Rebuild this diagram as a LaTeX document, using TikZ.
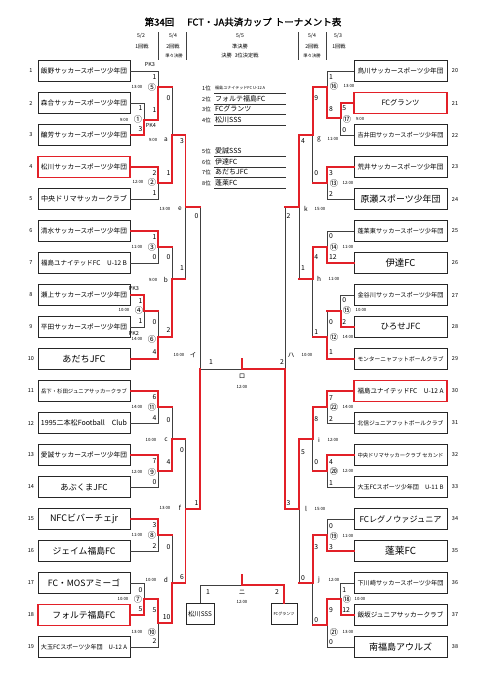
\documentclass[tikz,border=0pt]{standalone}
\usepackage{fontspec}
\usepackage{graphicx}
\setmainfont{Noto Sans CJK JP}
\newfontfamily\titlefont{Noto Sans CJK JP}[FakeBold=1.2]
\definecolor{wred}{RGB}{226,32,40}
\newcount\lc
\newcommand\lab[4]{\global\advance\lc by 1 \node[#1] (lab\the\lc) at (#2,#3) {#4};}
\newcommand\teamL[4]{\node[tbox,#1] (t#2) at (84,{71+32*(#2-1)}) {\resizebox{#3pt}{!}{#4}};
  \node[num] (n#2) at (31,{71+32*(#2-1)}) {#2};}
\newcommand\teamR[4]{\node[tbox,minimum width=93pt,#1] (t#2) at (400.5,{71+32*(#2-20)}) {\resizebox{#3pt}{!}{#4}};
  \node[num] (n#2) at (455,{71+32*(#2-20)}) {#2};}
\begin{document}
\begin{tikzpicture}[x=1pt,y=-1pt,
  tbox/.style={draw=black!85, line width=0.7pt, minimum width=92pt, minimum height=21pt, inner sep=0pt},
  redbox/.style={draw=wred, line width=1.7pt},
  lose/.style={draw=black!75, line width=0.7pt},
  win/.style={draw=wred, line width=1.7pt, line cap=rect},
  num/.style={font=\fontsize{5.5}{6}\selectfont, inner sep=0pt},
  scE/.style={font=\fontsize{6.8}{7}\selectfont, inner sep=0pt, anchor=east},
  scW/.style={font=\fontsize{6.8}{7}\selectfont, inner sep=0pt, anchor=west},
  sc/.style={font=\fontsize{6.8}{7}\selectfont, inner sep=0pt},
  pk/.style={font=\fontsize{5.5}{6}\selectfont, inner sep=0pt},
  circ/.style={font=\fontsize{8.2}{9}\selectfont, inner sep=0pt},
  tm/.style={font=\fontsize{4.3}{5}\selectfont, inner sep=0pt},
  ltr/.style={font=\fontsize{6.5}{7}\selectfont, inner sep=0pt},
  hd/.style={font=\fontsize{5.2}{6}\selectfont, inner sep=0pt},
  rk/.style={font=\fontsize{5.5}{6}\selectfont, inner sep=0pt, anchor=west},
  rkt/.style={font=\fontsize{7}{7}\selectfont, inner sep=0pt, anchor=west},
]
\fill[white] (0,0) rectangle (480,678);
\useasboundingbox (0,0) rectangle (480,678);

% title and header
\node[font=\titlefont\fontsize{9.5}{10}\selectfont, inner sep=0pt] (title) at (243,22) {第34回\hspace{13pt}FCT・JA共済カップ\hspace{3pt}トーナメント表};
\node[hd] (h1) at (141,36) {5/2};
\node[hd] (h2) at (142,47) {1回戦};
\node[hd] (h3) at (173,36) {5/4};
\node[hd] (h4) at (173,47) {2回戦};
\node[tm] (h5) at (174,56) {準々決勝};
\node[hd] (h6) at (240,36) {5/5};
\node[hd] (h7) at (240,47) {準決勝};
\node[hd] (h8) at (240,56) {決勝\hspace{3pt}3位決定戦};
\node[hd] (h9) at (312,36) {5/4};
\node[hd] (h10) at (312,47) {2回戦};
\node[tm] (h11) at (312,56) {準々決勝};
\node[hd] (h12) at (338,36) {5/3};
\node[hd] (h13) at (339,47) {1回戦};
\draw[lose] (158,32) -- (158,60);
\draw[lose] (186,32) -- (186,60);
\draw[lose] (298,32) -- (298,60);
\draw[lose] (326,32) -- (326,60);

% teams left
\teamL{}{1}{86}{飯野サッカースポーツ少年団}
\teamL{}{2}{86}{森合サッカースポーツ少年団}
\teamL{}{3}{86}{醸芳サッカースポーツ少年団}
\teamL{redbox}{4}{86}{松川サッカースポーツ少年団}
\teamL{}{5}{86}{中央ドリマサッカークラブ}
\teamL{}{6}{86}{清水サッカースポーツ少年団}
\teamL{}{7}{86}{福島ユナイテッドFC　U-12 B}
\teamL{}{8}{86}{瀬上サッカースポーツ少年団}
\teamL{}{9}{86}{平田サッカースポーツ少年団}
\teamL{}{10}{43}{あだちJFC}
\teamL{}{11}{86}{岳下・杉田ジュニアサッカークラブ}
\teamL{}{12}{86}{1995二本松Football　Club}
\teamL{}{13}{86}{愛誠サッカースポーツ少年団}
\teamL{}{14}{47}{あぶくまJFC}
\teamL{}{15}{68}{NFCビバーチェjr}
\teamL{}{16}{63}{ジェイム福島FC}
\teamL{}{17}{72}{FC・MOSアミーゴ}
\teamL{redbox}{18}{63}{フォルテ福島FC}
\teamL{}{19}{86}{大玉FCスポーツ少年団　U-12 A}

% teams right
\teamR{}{20}{86}{鳥川サッカースポーツ少年団}
\teamR{redbox}{21}{38}{FCグランツ}
\teamR{}{22}{86}{吉井田サッカースポーツ少年団}
\teamR{}{23}{86}{荒井サッカースポーツ少年団}
\teamR{}{24}{80}{原瀬スポーツ少年団}
\teamR{}{25}{86}{蓬莱東サッカースポーツ少年団}
\teamR{}{26}{30}{伊達FC}
\teamR{}{27}{86}{金谷川サッカースポーツ少年団}
\teamR{}{28}{40}{ひろせJFC}
\teamR{}{29}{86}{モンターニャフットボールクラブ}
\teamR{redbox}{30}{86}{福島ユナイテッドFC　U-12 A}
\teamR{}{31}{86}{北信ジュニアフットボールクラブ}
\teamR{}{32}{86}{中央ドリマサッカークラブ セカンド}
\teamR{}{33}{86}{大玉FCスポーツ少年団　U-11 B}
\teamR{}{34}{82}{FCレグノウァジュニア}
\teamR{}{35}{31}{蓬莱FC}
\teamR{}{36}{86}{下川崎サッカースポーツ少年団}
\teamR{}{37}{86}{飯坂ジュニアサッカークラブ}
\teamR{}{38}{63}{南福島アウルズ}

% match points
\coordinate (m1) at (144,120);
\coordinate (m5) at (158,87);
\coordinate (m2) at (158,183);
\coordinate (ma) at (172,135);
\coordinate (m3) at (158,247);
\coordinate (m4) at (144,311);
\coordinate (m6) at (158,337);
\coordinate (mb) at (172,279);
\coordinate (me) at (185.5,207);
\coordinate (m11) at (158,407);
\coordinate (m9) at (158,471);
\coordinate (mc) at (172,439);
\coordinate (m8) at (158,535);
\coordinate (m7) at (144,599);
\coordinate (m10) at (158,623);
\coordinate (md) at (172,583);
\coordinate (mf) at (185.5,509);
\coordinate (mI) at (200,369);
\coordinate (mRo) at (242,369);
\coordinate (mHa) at (285,369);
\coordinate (m17) at (340.7,118);
\coordinate (m16) at (327.3,87);
\coordinate (m13) at (327.3,183);
\coordinate (mg) at (312.7,135);
\coordinate (m14) at (327.3,247);
\coordinate (m15) at (340.7,311);
\coordinate (m12) at (327.3,337);
\coordinate (mh) at (312.7,279);
\coordinate (mk) at (299.3,207);
\coordinate (m22) at (327.3,407);
\coordinate (m20) at (327.3,471);
\coordinate (mi) at (312.7,439);
\coordinate (m19) at (327.3,535);
\coordinate (m18) at (340.7,599);
\coordinate (m21) at (327.3,625);
\coordinate (mj) at (312.7,583);
\coordinate (ml) at (299.3,509);

% black base
\foreach \a/\b in {t1/m5,t2/m1,t3/m1,t4/m2,t5/m2,t6/m3,t7/m3,t8/m4,t9/m4,t10/m6,t11/m11,t12/m11,t13/m9,t14/m9,t15/m8,t16/m8,t17/m7,t18/m7,t19/m10}
  \draw[lose] (\a.east) -| (\b);
\foreach \a/\b in {t20/m16,t21/m17,t22/m17,t23/m13,t24/m13,t25/m14,t26/m14,t27/m15,t28/m15,t29/m12,t30/m22,t31/m22,t32/m20,t33/m20,t34/m19,t35/m19,t36/m18,t37/m18,t38/m21}
  \draw[lose] (\a.west) -| (\b);
\foreach \a/\b in {m1/m5,m5/ma,m2/ma,m3/mb,m4/m6,m6/mb,ma/me,mb/me,m11/mc,m9/mc,m8/md,m7/m10,m10/md,mc/mf,md/mf,me/mI,mf/mI,m17/m16,m16/mg,m13/mg,m14/mh,m15/m12,m12/mh,mg/mk,mh/mk,m22/mi,m20/mi,m19/mj,m18/m21,m21/mj,mi/ml,mj/ml,mk/mHa,ml/mHa}
  \draw[lose] (\a) -| (\b);
\draw[lose] (mI) -- (mHa);

% red winner paths
\draw[win] (t3.east) -| (m1) -| (m5) -- (m5 -| ma);
\draw[win] (t4.east) -| (m2) -| (ma) -| (me) -- (me -| mI);
\draw[win] (t6.east) -| (m3) -- (m3 -| mb);
\draw[win] (t8.east) -| (m4) -- (m4 -| m6);
\draw[win] (t10.east) -| (m6) -| (mb) -- (mb -| me);
\draw[win] (t11.east) -| (m11) -- (m11 -| mc);
\draw[win] (t13.east) -| (m9) -| (mc) -- (mc -| mf);
\draw[win] (t15.east) -| (m8) -- (m8 -| md);
\draw[win] (t18.east) -| (m7) -| (m10) -| (md) -| (mf) -| (mI);
\draw[win] (t21.west) -| (m17) -| (m16) -| (mg) -| (mk) -- (mk -| mHa);
\draw[win] (t23.west) -| (m13) -- (m13 -| mg);
\draw[win] (t26.west) -| (m14) -| (mh) -- (mh -| mk);
\draw[win] (t28.west) -| (m15) -- (m15 -| m12);
\draw[win] (t29.west) -| (m12) -- (m12 -| mh);
\draw[win] (t30.west) -| (m22) -| (mi) -| (ml) -| (mHa) -- (mRo) -- ++(0,-10);
\draw[win] (t32.west) -| (m20) -- (m20 -| mi);
\draw[win] (t35.west) -| (m19) -| (mj) -- (mj -| ml);
\draw[win] (t37.west) -| (m18) -| (m21) -- (m21 -| mj);

% third place match
\node[draw=black!85, line width=0.7pt, minimum width=28pt, minimum height=21pt, inner sep=0pt] (p1) at (200,614) {\resizebox{24pt}{!}{松川SSS}};
\node[draw=black!85, line width=0.7pt, minimum width=26pt, minimum height=21pt, inner sep=0pt] (p2) at (284,614) {\resizebox{21pt}{!}{FCグランツ}};
\coordinate (n3) at (242,585);
\draw[lose] (p1.north) |- (n3);
\draw[win] (p2.north) |- (n3) -- ++(0,-10);
\lab{sc}{208}{592}{1}
\lab{sc}{277}{592}{2}
\lab{ltr}{242}{592}{ニ}
\lab{tm}{242}{602}{12:00}

% final labels
\lab{sc}{211}{362}{1}
\lab{sc}{282}{362}{2}
\lab{ltr}{242}{376}{ロ}
\lab{tm}{242}{387}{12:00}

% left scores
\lab{scE}{142.5}{108}{1}\lab{scE}{142.5}{129}{3}
\lab{scE}{156.5}{77}{1}\lab{scE}{156.5}{110}{1}
\lab{pk}{150}{65}{PK3}\lab{pk}{151}{125}{PK4}
\lab{scE}{156.5}{173}{2}\lab{scE}{156.5}{193}{1}
\lab{scE}{170.5}{98}{0}\lab{scE}{170.5}{173}{1}
\lab{scE}{156.5}{237}{1}\lab{scE}{156.5}{257}{0}
\lab{scE}{142.5}{301}{1}\lab{scE}{142.5}{321}{1}
\lab{pk}{134}{289}{PK3}\lab{pk}{134}{333}{PK2}
\lab{scE}{156.5}{322}{0}\lab{scE}{156.5}{352}{4}
\lab{scE}{170.5}{257}{0}\lab{scE}{170.5}{330}{2}
\lab{scE}{184}{141}{3}\lab{scE}{184}{268}{1}
\lab{scE}{156.5}{397}{6}\lab{scE}{156.5}{418}{4}
\lab{scE}{156.5}{461}{7}\lab{scE}{156.5}{482}{0}
\lab{scE}{170.5}{420}{0}\lab{scE}{170.5}{462}{4}
\lab{scE}{156.5}{525}{3}\lab{scE}{156.5}{546}{2}
\lab{scE}{142.5}{590}{0}\lab{scE}{142.5}{609}{5}
\lab{scE}{156.5}{610}{5}\lab{scE}{156.5}{641}{2}
\lab{scE}{170.5}{547}{0}\lab{scE}{170.5}{617}{10}
\lab{scE}{184}{450}{0}\lab{scE}{184}{577}{6}
\lab{scE}{198.5}{216}{0}\lab{scE}{198.5}{503}{1}

% right scores
\lab{scW}{342.2}{108}{5}\lab{scW}{342.2}{130}{0}
\lab{scW}{328.8}{77}{1}\lab{scW}{328.8}{109}{8}
\lab{scW}{328.8}{173}{3}\lab{scW}{328.8}{194}{2}
\lab{scW}{314.2}{98}{9}\lab{scW}{314.2}{173}{0}
\lab{scW}{328.8}{236}{0}\lab{scW}{328.8}{257}{12}
\lab{scW}{342.2}{300}{0}\lab{scW}{342.2}{322}{2}
\lab{scW}{328.8}{322}{0}\lab{scW}{328.8}{352}{1}
\lab{scW}{314.2}{257}{4}\lab{scW}{314.2}{332}{1}
\lab{scW}{300.8}{141}{4}\lab{scW}{300.8}{268}{1}
\lab{scW}{328.8}{398}{7}\lab{scW}{328.8}{419}{2}
\lab{scW}{328.8}{462}{4}\lab{scW}{328.8}{483}{1}
\lab{scW}{314.2}{419}{8}\lab{scW}{314.2}{462}{0}
\lab{scW}{328.8}{526}{0}\lab{scW}{328.8}{547}{3}
\lab{scW}{342.2}{590}{1}\lab{scW}{342.2}{610}{12}
\lab{scW}{328.8}{610}{9}\lab{scW}{328.8}{642}{0}
\lab{scW}{314.2}{547}{3}\lab{scW}{314.2}{620}{0}
\lab{scW}{300.8}{452}{5}\lab{scW}{300.8}{578}{0}
\lab{scW}{286.5}{216}{2}\lab{scW}{286.5}{503}{3}

% left match labels
\lab{circ}{138}{119}{①}\lab{tm}{124}{120}{9:00}
\lab{circ}{152}{87}{⑤}\lab{tm}{137}{87}{13:00}
\lab{circ}{152}{182}{②}\lab{tm}{138}{182}{12:00}
\lab{circ}{152}{247}{③}\lab{tm}{137}{247}{11:00}
\lab{circ}{139}{310}{④}\lab{tm}{124}{310}{10:00}
\lab{circ}{152}{339}{⑥}\lab{tm}{137}{339}{14:00}
\lab{circ}{152}{407}{⑪}\lab{tm}{137}{407}{14:00}
\lab{circ}{152}{472}{⑨}\lab{tm}{137}{472}{12:00}
\lab{circ}{152}{535}{⑧}\lab{tm}{137}{535}{11:00}
\lab{circ}{138}{599}{⑦}\lab{tm}{123}{599}{10:00}
\lab{circ}{152}{632}{⑩}\lab{tm}{137}{632}{13:00}
\lab{ltr}{166}{140}{a}\lab{tm}{153}{140}{9:00}
\lab{ltr}{166}{280}{b}\lab{tm}{153}{280}{9:00}
\lab{ltr}{166}{440}{c}\lab{tm}{151}{440}{10:00}
\lab{ltr}{166}{580}{d}\lab{tm}{151}{580}{10:00}
\lab{ltr}{180}{209}{e}\lab{tm}{165}{209}{13:00}
\lab{ltr}{180}{508}{f}\lab{tm}{165}{508}{13:00}
\lab{ltr}{193}{355}{イ}\lab{tm}{179}{355}{10:00}

% right match labels
\lab{circ}{347}{119}{⑰}\lab{tm}{360}{119}{9:00}
\lab{circ}{334}{86}{⑯}\lab{tm}{349}{86}{13:00}
\lab{circ}{334}{183}{⑬}\lab{tm}{348}{183}{12:00}
\lab{circ}{334}{247}{⑭}\lab{tm}{348}{247}{11:00}
\lab{circ}{347}{310}{⑮}\lab{tm}{361}{310}{10:00}
\lab{circ}{334}{337}{⑫}\lab{tm}{348}{337}{14:00}
\lab{circ}{334}{407}{㉒}\lab{tm}{348}{407}{14:00}
\lab{circ}{334}{471}{⑳}\lab{tm}{348}{471}{12:00}
\lab{circ}{334}{536}{⑲}\lab{tm}{348}{536}{11:00}
\lab{circ}{347}{599}{⑱}\lab{tm}{360}{599}{10:00}
\lab{circ}{334}{632}{㉑}\lab{tm}{348}{632}{13:00}
\lab{ltr}{319}{139}{g}\lab{tm}{333}{139}{11:00}
\lab{ltr}{319}{279}{h}\lab{tm}{334}{279}{11:00}
\lab{ltr}{319}{440}{i}\lab{tm}{333}{440}{12:00}
\lab{ltr}{319}{580}{j}\lab{tm}{334}{580}{12:00}
\lab{ltr}{306}{209}{k}\lab{tm}{320}{209}{15:00}
\lab{ltr}{306}{509}{l}\lab{tm}{320}{509}{15:00}
\lab{ltr}{291}{355}{ハ}\lab{tm}{307}{355}{10:00}

% rankings
\node[rk] (r1) at (202,88) {1位};
\node[rkt] (r1t) at (215,88) {\resizebox{50pt}{!}{福島ユナイテッドFC U-12 A}};
\node[rk] (r2) at (202,99) {2位};
\node[rkt] (r2t) at (215,99) {フォルテ福島FC};
\node[rk] (r3) at (202,109) {3位};
\node[rkt] (r3t) at (215,109) {FCグランツ};
\node[rk] (r4) at (202,120) {4位};
\node[rkt] (r4t) at (215,120) {松川SSS};
\node[rk] (r5) at (202,151) {5位};
\node[rkt] (r5t) at (215,151) {愛誠SSS};
\node[rk] (r6) at (202,162) {6位};
\node[rkt] (r6t) at (215,162) {伊達FC};
\node[rk] (r7) at (202,172) {7位};
\node[rkt] (r7t) at (215,172) {あだちJFC};
\node[rk] (r8) at (202,183) {8位};
\node[rkt] (r8t) at (215,183) {蓬莱FC};
\foreach \yy in {93,104,114,125,156,167,177,188}
  \draw[black!80, line width=0.8pt] (214,\yy) -- (286,\yy);
\end{tikzpicture}
\end{document}
